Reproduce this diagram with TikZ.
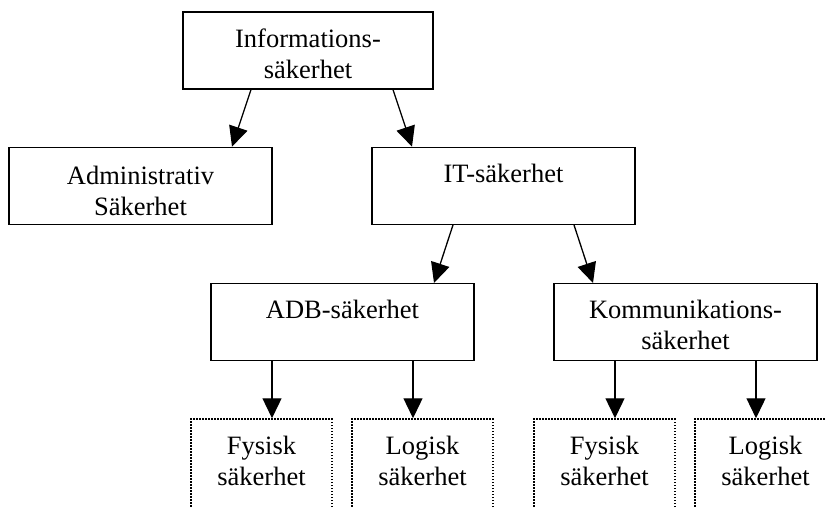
\documentclass[tikz,border=0pt]{standalone}
\usepackage{fontspec}
\setmainfont{Liberation Serif}
\usetikzlibrary{arrows.meta,positioning}

\begin{document}
\begin{tikzpicture}[
  x=1pt, y=-1pt,
  box/.style={draw, line width=1.3pt, minimum width=263pt, inner xsep=0pt, inner ysep=0pt,
    align=center, font=\fontsize{26.5}{31}\selectfont, text height=35pt, text depth=42pt},
  twoline/.style={text height=66pt, text depth=11pt},
  open/.style={draw, line width=1.7pt, dash pattern=on 1.6pt off 1.4pt, minimum width=141pt,
    inner xsep=0pt, inner ysep=0pt, align=center, font=\fontsize{26.5}{31}\selectfont,
    text height=66pt, text depth=34pt},
  arr/.style={-{Triangle[length=20pt, width=19pt]}, line width=1.3pt}
]
  \clip[use as bounding box] (0,0) rectangle (826,507);

  \node[box, twoline, minimum width=250pt] (info) at (308,50.5) {Informations-\\säkerhet};
  \node[box, twoline, text height=68pt, text depth=9pt, below=57pt of info, xshift=-167.5pt]
    (admin) {Administrativ\\Säkerhet};
  \node[box, below=57pt of info, xshift=195.5pt] (it) {IT-säkerhet};
  \node[box, below=58pt of it, xshift=-161pt] (adb) {ADB-säkerhet};
  \node[box, twoline, below=58pt of it, xshift=182pt] (komm) {Kommunikations-\\säkerhet};

  % dotted boxes run past the bottom edge
  \node[open, below=57pt of adb, xshift=-81pt] (fys1) {Fysisk\\säkerhet};
  \node[open, below=57pt of adb, xshift=80pt] (log1) {Logisk\\säkerhet};
  \node[open, below=57pt of komm, xshift=-81pt] (fys2) {Fysisk\\säkerhet};
  \node[open, below=57pt of komm, xshift=80pt] (log2) {Logisk\\säkerhet};

  \draw[arr] ([xshift=-57pt]info.south) -- ([xshift=91.5pt]admin.north);
  \draw[arr] ([xshift=85pt]info.south) -- ([xshift=-91.5pt]it.north);
  \draw[arr] ([xshift=-50.5pt]it.south) -- ([xshift=91.5pt]adb.north);
  \draw[arr] ([xshift=70.5pt]it.south) -- ([xshift=-92.5pt]komm.north);

  \draw[arr] ([xshift=-70.5pt]adb.south) -- ([xshift=-70.5pt]adb.south |- fys1.north);
  \draw[arr] ([xshift=70.5pt]adb.south) -- ([xshift=70.5pt]adb.south |- log1.north);
  \draw[arr] ([xshift=-70.5pt]komm.south) -- ([xshift=-70.5pt]komm.south |- fys2.north);
  \draw[arr] ([xshift=70.5pt]komm.south) -- ([xshift=70.5pt]komm.south |- log2.north);
\end{tikzpicture}
\end{document}
